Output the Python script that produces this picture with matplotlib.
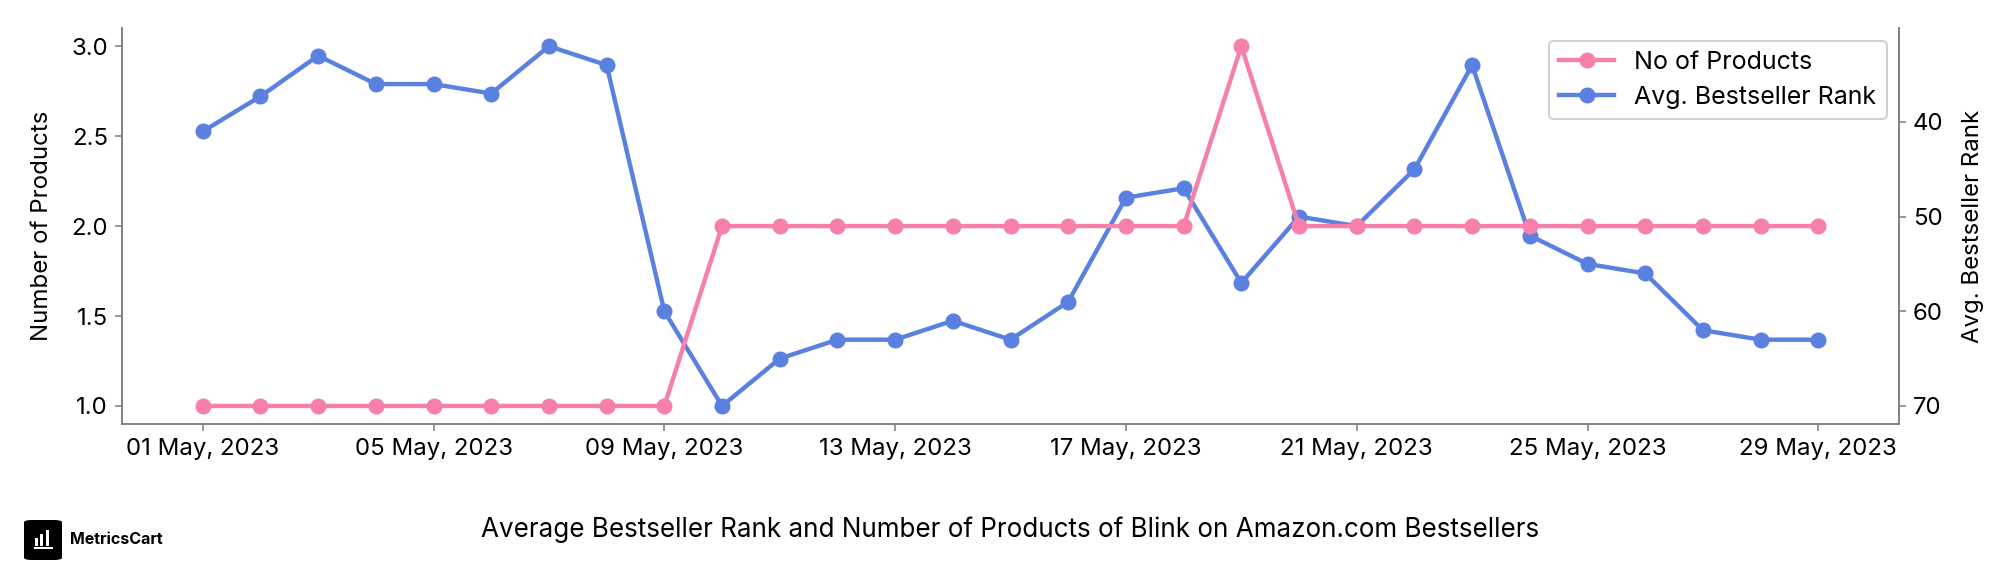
import matplotlib
matplotlib.use("Agg")
import matplotlib.pyplot as plt
import matplotlib.dates as mdates
from matplotlib.patches import FancyBboxPatch, Rectangle
import numpy as np
import pandas as pd

dates = pd.date_range("2023-05-01", "2023-05-29", freq="D")
num_products = [1, 1, 1, 1, 1, 1, 1, 1, 1, 2, 2, 2, 2, 2, 2, 2, 2, 2, 3, 2, 2, 2, 2, 2, 2, 2, 2, 2, 2]
avg_rank = [41, 37.3, 33, 36, 36, 37, 32, 34, 60, 70, 65, 63, 63, 61, 63, 59, 48, 47,
            57, 50, 51, 45, 34, 52, 55, 56, 62, 63, 63]
left_ticks = [1.0, 1.5, 2.0, 2.5, 3.0]
right_ticks = [40, 50, 60, 70]
title = "Average Bestseller Rank and Number of Products of Blink on Amazon.com Bestsellers"

plt.rcParams['font.family'] = ['Inter', 'DejaVu Sans']
PINK = "#F77FAB"
BLUE = "#5A80E0"
GRAY = "#808080"
FS = 12

fig = plt.figure(figsize=(14, 4), dpi=144)
ax = fig.add_axes([0.0605, 0.264, 0.8815, 0.687])
ax2 = ax.twinx()

l1, = ax.plot(dates, num_products, color=PINK, lw=2.2, marker="o", ms=7, label="No of Products")
l2, = ax2.plot(dates, avg_rank, color=BLUE, lw=2.2, marker="o", ms=7, label="Avg. Bestseller Rank")
ax2.invert_yaxis()
ax2.set_yticks(right_ticks)
ax.set_yticks(left_ticks)
ax.yaxis.set_major_formatter(matplotlib.ticker.FormatStrFormatter("%.1f"))

ax.set_ylabel("Number of Products", fontsize=FS, labelpad=9)
ax2.set_ylabel("Avg. Bestseller Rank", fontsize=FS, labelpad=9)
ax.set_xticks(dates[::4])
ax.xaxis.set_major_formatter(mdates.DateFormatter("%d %b, %Y"))

for a in (ax, ax2):
    a.spines['top'].set_visible(False)
    for s in ('left', 'right', 'bottom'):
        a.spines[s].set_color(GRAY)
    a.tick_params(colors="black", labelsize=FS)
    a.tick_params(axis='both', color=GRAY)

ax.legend(handles=[l1, l2], loc="upper right", fontsize=12.5, framealpha=1,
          edgecolor="#d0d0d0", borderpad=0.4, handlelength=2.2)
ax.set_zorder(ax2.get_zorder() + 1)
ax.patch.set_visible(False)

fig.text(0.501, 0.08, title, ha="center", va="center", fontsize=13)

# logo
lx, ly, lw_, lh = 24/2016, 16/576, 38/2016, 40/576
fig.patches.append(FancyBboxPatch((lx, ly), lw_, lh, boxstyle="round,pad=0,rounding_size=0.004",
                                  transform=fig.transFigure, facecolor="black", edgecolor="none"))
for i, h in enumerate([0.35, 0.5, 0.65]):
    fig.patches.append(Rectangle((lx + lw_*(0.28 + i*0.15), ly + lh*0.35), lw_*0.08, lh*h*0.6,
                                 transform=fig.transFigure, facecolor="white", edgecolor="none"))
fig.patches.append(Rectangle((lx + lw_*0.25, ly + lh*0.27), lw_*0.5, lh*0.05,
                             transform=fig.transFigure, facecolor="white", edgecolor="none"))
fig.text(70/2016, ly + lh/2, "MetricsCart", fontsize=8, fontweight="bold", va="center", ha="left")

fig.savefig("out.png", dpi=144)
